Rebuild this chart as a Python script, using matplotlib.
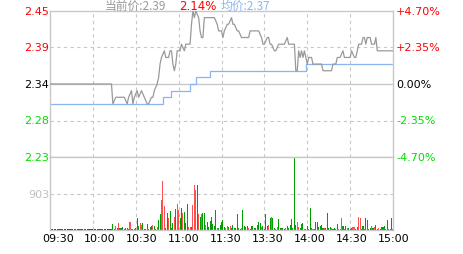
import numpy as np
import matplotlib
matplotlib.use("Agg")
import matplotlib.pyplot as plt
from matplotlib.transforms import blended_transform_factory

# ---- data ----
prev_close = 2.34
pct_levels = [4.70, 2.35, 0.00, -2.35, -4.70]
price_labels = ["2.45", "2.39", "2.34", "2.28", "2.23"]
pct_labels = ["+4.70%", "+2.35%", "0.00%", "-2.35%", "-4.70%"]
time_labels = ["09:30", "10:00", "10:30", "11:00", "11:30", "13:30", "14:00", "14:30", "15:00"]
vol_max = 1806
vol_label = "903"
last_price = "2.39"
last_pct = "2.14%"
avg_last = "2.37"

# minute index (0 = 09:30, 240 = 15:00) and price at that minute
price_min = [0, 43, 44, 46, 49, 52, 54, 55, 57, 58, 59, 61, 62, 64, 66, 68, 69, 71, 72, 73,
             75, 76, 77, 78, 80, 81, 83, 84, 85, 86, 87, 88, 89, 91, 92, 94, 95, 98, 99, 100,
             101, 102, 104, 105, 106, 107, 108, 113, 115, 117, 118, 120, 121, 122, 124, 125, 127, 128, 129, 131,
             132, 134, 136, 139, 140, 141, 144, 146, 148, 149, 150, 152, 153, 154, 155, 157, 158, 160, 162, 164,
             166, 167, 169, 171, 172, 173, 174, 175, 176, 177, 178, 180, 181, 183, 184, 186, 188, 190, 191, 194,
             197, 198, 200, 201, 203, 205, 206, 208, 210, 211, 213, 214, 216, 218, 219, 220, 221, 222, 224, 225,
             227, 228, 229, 231, 240]
price_val = [2.34, 2.34, 2.31, 2.32, 2.32, 2.32, 2.31, 2.32, 2.33, 2.31, 2.32, 2.33, 2.32, 2.33, 2.32, 2.31, 2.31, 2.32, 2.32, 2.33,
             2.34, 2.35, 2.37, 2.38, 2.39, 2.38, 2.38, 2.39, 2.39, 2.37, 2.36, 2.37, 2.39, 2.39, 2.40, 2.39, 2.40, 2.40, 2.43, 2.45,
             2.44, 2.45, 2.44, 2.42, 2.41, 2.41, 2.44, 2.44, 2.44, 2.43, 2.42, 2.42, 2.41, 2.42, 2.43, 2.43, 2.44, 2.43, 2.43, 2.42,
             2.42, 2.41, 2.41, 2.41, 2.42, 2.42, 2.42, 2.42, 2.41, 2.40, 2.40, 2.41, 2.41, 2.40, 2.40, 2.39, 2.39, 2.40, 2.40, 2.40,
             2.41, 2.40, 2.40, 2.40, 2.36, 2.36, 2.39, 2.38, 2.39, 2.38, 2.39, 2.37, 2.38, 2.38, 2.37, 2.37, 2.37, 2.37, 2.36, 2.36,
             2.36, 2.37, 2.37, 2.38, 2.38, 2.39, 2.38, 2.38, 2.38, 2.39, 2.38, 2.38, 2.40, 2.40, 2.41, 2.41, 2.40, 2.41, 2.41, 2.40,
             2.40, 2.41, 2.39, 2.39, 2.39]

# average price, changes at these minutes
avg_min = [0, 79, 85, 98, 102, 112, 179, 240]
avg_val = [2.31, 2.32, 2.33, 2.34, 2.35, 2.36, 2.37, 2.37]

# volume per minute, 0..240
volume = [0, 0, 0, 0, 0, 0, 0, 0, 0, 0,
          0, 0, 0, 0, 0, 0, 0, 0, 0, 0,
          0, 0, 0, 0, 0, 0, 0, 0, 0, 0,
          0, 0, 0, 0, 0, 0, 0, 0, 0, 0,
          0, 0, 0, 0, 150, 30, 90, 40, 170, 40,
          45, 65, 30, 50, 50, 25, 200, 25, 30, 35,
          50, 300, 90, 170, 120, 165, 25, 30, 150, 25,
          65, 90, 130, 100, 25, 75, 250, 400, 740, 1210,
          600, 40, 420, 300, 470, 50, 175, 320, 520, 640,
          500, 300, 540, 420, 440, 180, 640, 65, 65, 75,
          620, 1110, 990, 1110, 400, 320, 400, 420, 410, 125,
          200, 80, 225, 320, 150, 90, 500, 40, 60, 125,
          200, 250, 65, 40, 90, 82, 90, 50, 130, 50,
          50, 400, 50, 30, 40, 495, 90, 65, 90, 50,
          30, 90, 105, 50, 50, 125, 190, 165, 82, 105,
          30, 400, 105, 125, 300, 320, 300, 50, 30, 82,
          270, 50, 50, 50, 30, 50, 105, 50, 125, 270,
          50, 1806, 125, 200, 82, 50, 150, 175, 25, 30,
          90, 25, 545, 40, 25, 25, 205, 190, 82, 105,
          125, 40, 50, 40, 420, 40, 75, 50, 25, 57,
          25, 140, 25, 25, 300, 90, 30, 90, 40, 40,
          25, 50, 65, 82, 30, 65, 320, 300, 25, 90,
          25, 300, 255, 25, 50, 105, 40, 65, 125, 25,
          50, 25, 65, 65, 105, 25, 250, 25, 25, 300,
          30]
# n = no trade, r = up, g = down
vol_dir = ("nnnnnnnnnnnnnnnnnnnnnnnnnnnnnnnnnnnnnnnnnnnn"
           "ggrgrggggg" "ggrggggggr" "rgggggggrg" "grggrrrggr" "gggrgrrggr"
           "gggrrgrrrg" "rgrggrgggg" "gggrgggggr" "rgrggggggg" "rggggrgggg"
           "ggggrggggr" "grgggrgggg" "grgggggggr" "rgggrggggg" "rgggggggrg"
           "gggrggggrr" "rgggrgggrr" "ggrrgggggg" "grgrggrggg" "ggggggg")

# ---- style ----
GRID = "#c8c8c8"
RED = "#ff0000"
GREEN = "#00dd00"
BAR_RED = "#ff4f4f"
BAR_GREEN = "#009e00"
fs = 8

W, H = 463, 255
fig = plt.figure(figsize=(W / 100, H / 100), dpi=100)
L, R, T, MID, B = 50, 393, 12, 158, 231
ax1 = fig.add_axes([L / W, 1 - MID / H, (R - L) / W, (MID - T) / H])
ax2 = fig.add_axes([L / W, 1 - B / H, (R - L) / W, (B - MID) / H])

levels = [prev_close * (1 + p / 100) for p in pct_levels]

for ax in (ax1, ax2):
    ax.set_xlim(0, 240)
    ax.set_xticks([])
    ax.set_yticks([])
    for s in ax.spines.values():
        s.set_color(GRID)
        s.set_linewidth(1.0)
    for m in range(30, 240, 30):
        ax.axvline(m, color=GRID, lw=0.8, ls=(0, (3, 3)), zorder=0)

ax1.set_ylim(levels[-1], levels[0])
ax1.axhline(levels[2], color=GRID, lw=1.0, zorder=0)
for lv in (levels[1], levels[3]):
    ax1.axhline(lv, color=GRID, lw=0.8, ls=(0, (3, 3)), zorder=0)

ax1.plot(avg_min, avg_val, color="#8cb4f0", lw=0.9, drawstyle="steps-post", zorder=2)
ax1.plot(price_min, price_val, color="#999999", lw=0.9, zorder=3)

ax2.set_ylim(0, vol_max)
ax2.axhline(vol_max / 2, color=GRID, lw=0.8, ls=(0, (3, 3)), zorder=0)
vol = np.array(volume, dtype=float)
cols = []
heights = []
for v, d in zip(vol, vol_dir):
    if d == "n":
        cols.append("#005000")
        heights.append(25)
    else:
        cols.append(BAR_RED if d == "r" else BAR_GREEN)
        heights.append(v)
ax2.bar(np.arange(len(vol)), heights, width=0.75, color=cols, linewidth=0,
        antialiased=False, zorder=2)

# axis labels
lab_cols = [RED, RED, "black", GREEN, GREEN]
tr1 = blended_transform_factory(ax1.transAxes, ax1.transData)
for lv, pl, ql, c in zip(levels, price_labels, pct_labels, lab_cols):
    ax1.text(-0.003, lv, pl, transform=tr1, ha="right", va="center", color=c,
             fontsize=fs, clip_on=False)
    ax1.text(1.009, lv, ql, transform=tr1, ha="left", va="center", color=c,
             fontsize=fs, clip_on=False)
tr2 = blended_transform_factory(ax2.transAxes, ax2.transData)
ax2.text(-0.003, vol_max / 2, vol_label, transform=tr2, ha="right", va="center",
         color="#c0c0c0", fontsize=fs)

for i, t in enumerate(time_labels):
    xp = 58 + i * (393.5 - 58) / 8
    fig.text(xp / W, 1 - 239 / H, t, ha="center", va="center", fontsize=fs, color="black")

# header
cjk = ["Noto Sans CJK SC", "DejaVu Sans"]
fig.text(105 / W, 1 - 9.5 / H, "当前价:" + last_price, color="#999999", fontsize=8.5,
         family=cjk, va="baseline")
fig.text(179 / W, 1 - 9.5 / H, last_pct, color=RED, fontsize=8.5, va="baseline")
fig.text(221 / W, 1 - 9.5 / H, "均价:" + avg_last, color="#8cb4f0", fontsize=8.5,
         family=cjk, va="baseline")

fig.savefig("out.png", dpi=100)
